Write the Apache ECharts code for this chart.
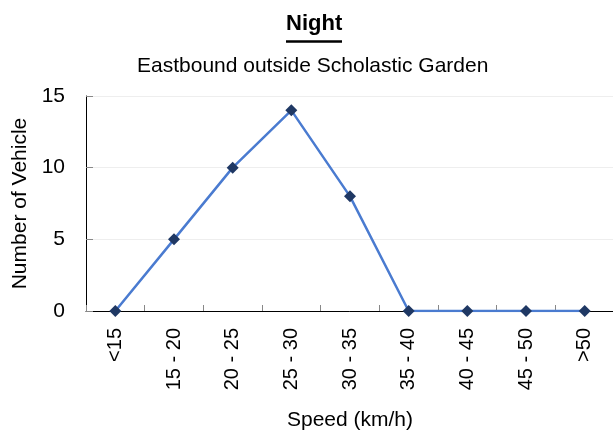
<!DOCTYPE html>
<html><head><meta charset="utf-8">
<script src="https://cdn.jsdelivr.net/npm/echarts@6/dist/echarts.min.js"></script>
<style>html,body{margin:0;padding:0;background:#fff}#c{width:613px;height:435px}</style>
</head><body><div id="c"></div>
<script>
var categories = ['<15', '15 - 20', '20 - 25', '25 - 30', '30 - 35', '35 - 40', '40 - 45', '45 - 50', '>50'];
var vehicles = [0, 5, 10, 14, 8, 0, 0, 0, 0];
var yTicks = [0, 5, 10, 15];

var chart = echarts.init(document.getElementById('c'), null, {renderer: 'canvas'});
var font = 'Liberation Sans, Arial, sans-serif';
chart.setOption({
  animation: false,
  title: [
    {text: 'Night', left: 281, top: 8, textStyle: {fontFamily: font, fontSize: 22, fontWeight: 'bold', color: '#000'}},
    {text: 'Eastbound outside Scholastic Garden', left: 132, top: 51, textStyle: {fontFamily: font, fontSize: 21, fontWeight: 'normal', color: '#000'}}
  ],
  graphic: [{type: 'line', shape: {x1: 286, y1: 41.5, x2: 342, y2: 41.5}, style: {stroke: '#000', lineWidth: 2.5}}],
  grid: {left: 86, top: 96, width: 528, height: 215, containLabel: false, outerBoundsMode: 'none'},
  xAxis: {
    type: 'category', data: categories, boundaryGap: true,
    name: 'Speed (km/h)', nameLocation: 'middle', nameGap: 99,
    nameTextStyle: {fontFamily: font, fontSize: 21, color: '#000'},
    axisLine: {lineStyle: {color: '#000', width: 1}},
    axisTick: {show: true, inside: true, length: 6, lineStyle: {color: '#888'}},
    axisLabel: {rotate: 90, fontFamily: font, fontSize: 20, color: '#000', margin: 17},
    splitLine: {show: false}
  },
  yAxis: {
    type: 'value', min: yTicks[0], max: yTicks[yTicks.length - 1], interval: 5,
    name: 'Number of Vehicle', nameLocation: 'middle', nameGap: 55,
    nameTextStyle: {fontFamily: font, fontSize: 21, color: '#000'},
    axisLine: {show: true, lineStyle: {color: '#000', width: 1}},
    axisTick: {show: true, inside: true, length: 7, lineStyle: {color: '#888'}},
    axisLabel: {fontFamily: font, fontSize: 21, color: '#000', margin: 21},
    splitLine: {show: true, lineStyle: {color: '#eeeeee', width: 1}}
  },
  series: [{
    type: 'line', data: vehicles,
    lineStyle: {color: '#4a7bd0', width: 2.5},
    symbol: 'diamond', symbolSize: 12,
    itemStyle: {color: '#1f3864'}
  }]
});
</script></body></html>
